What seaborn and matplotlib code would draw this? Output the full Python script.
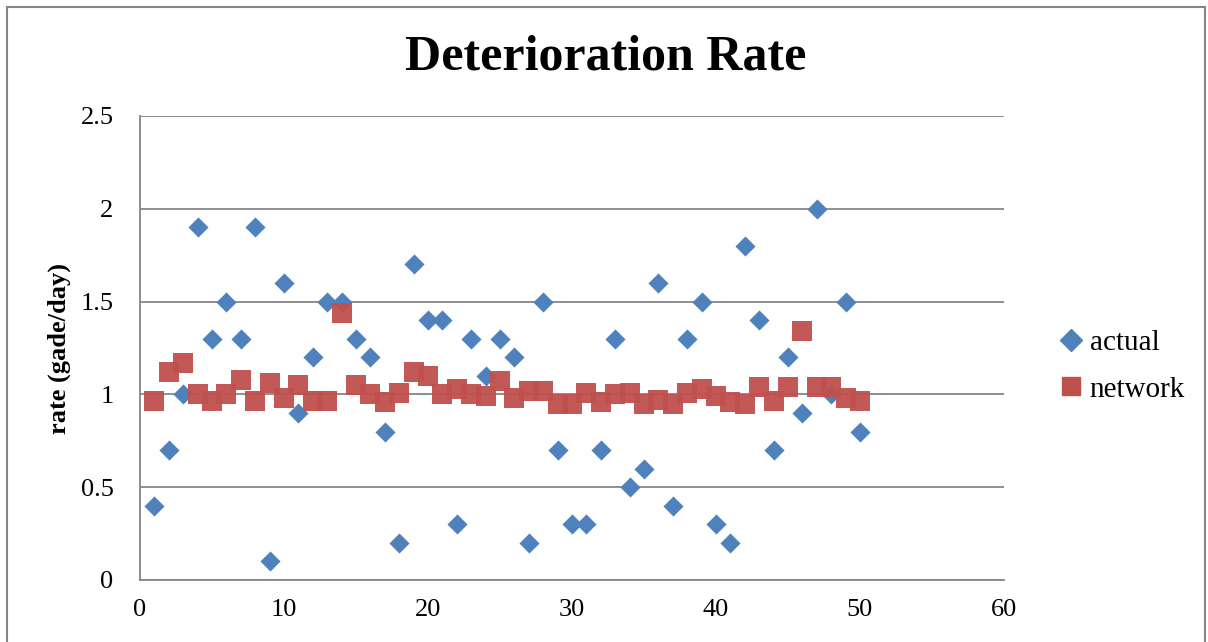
import numpy as np
import pandas as pd
import matplotlib
matplotlib.use("Agg")
import matplotlib.pyplot as plt
import seaborn as sns
from matplotlib.patches import Rectangle

# sample index and the two series
sample = list(range(1, 51))
actual = [0.4, 0.7, 1.0, 1.9, 1.3, 1.5, 1.3, 1.9, 0.1, 1.6,
          0.9, 1.2, 1.5, 1.5, 1.3, 1.2, 0.8, 0.2, 1.7, 1.4,
          1.4, 0.3, 1.3, 1.1, 1.3, 1.2, 0.2, 1.5, 0.7, 0.3,
          0.3, 0.7, 1.3, 0.5, 0.6, 1.6, 0.4, 1.3, 1.5, 0.3,
          0.2, 1.8, 1.4, 0.7, 1.2, 0.9, 2.0, 1.0, 1.5, 0.8]
network = [0.965, 1.12, 1.17, 1.0, 0.965, 1.0, 1.08, 0.965, 1.06, 0.98,
           1.05, 0.965, 0.965, 1.44, 1.05, 1.0, 0.96, 1.01, 1.12, 1.10,
           1.0, 1.03, 1.0, 0.99, 1.07, 0.98, 1.02, 1.02, 0.95, 0.95,
           1.01, 0.96, 1.0, 1.01, 0.95, 0.97, 0.95, 1.01, 1.03, 0.99,
           0.96, 0.95, 1.04, 0.965, 1.04, 1.34, 1.04, 1.04, 0.98, 0.965]
series_names = ["actual", "network"]

df = pd.concat([
    pd.DataFrame({"x": sample, "rate": actual, "series": "actual"}),
    pd.DataFrame({"x": sample, "rate": network, "series": "network"}),
])

sns.set_style("white")
plt.rcParams["font.family"] = ["Liberation Serif", "DejaVu Serif"]
plt.rcParams["text.color"] = "black"
plt.rcParams["axes.labelcolor"] = "black"
plt.rcParams["xtick.color"] = "black"
plt.rcParams["ytick.color"] = "black"

fig = plt.figure(figsize=(12.08, 6.42), dpi=100)
ax = fig.add_axes([140 / 1208, 1 - 580 / 642, (1004 - 140) / 1208, (580 - 116) / 642])

# outer chart border
fig.patches.append(Rectangle((7 / 1208, -0.05), (1205 - 7) / 1208, 1.05 - 7 / 642,
                             transform=fig.transFigure, fill=False,
                             edgecolor="#868686", linewidth=1.5))

palette = {"actual": "#4F81BD", "network": "#C0504D"}
markers = {"actual": "D", "network": "s"}

sns.scatterplot(data=df[df.series == "network"], x="x", y="rate", color=palette["network"],
                marker="s", s=200, linewidth=0, alpha=0.95, ax=ax, zorder=3)
sns.scatterplot(data=df[df.series == "actual"], x="x", y="rate", color=palette["actual"],
                marker="D", s=105, linewidth=0, ax=ax, zorder=2)

ax.set_xlim(0, 60)
ax.set_ylim(0, 2.5)
ax.set_xticks(range(0, 61, 10))
ax.set_yticks([0, 0.5, 1, 1.5, 2, 2.5])
ax.set_yticklabels(["0", "0.5", "1", "1.5", "2", "2.5"])
ax.tick_params(axis="both", labelsize=19, length=0)
ax.tick_params(axis="y", pad=19)
ax.tick_params(axis="x", pad=14)
ax.yaxis.grid(True, color="#868686", linewidth=1.3)
ax.set_axisbelow(True)
for side in ["top", "right"]:
    ax.spines[side].set_visible(False)
for side in ["left", "bottom"]:
    ax.spines[side].set_color("#868686")
    ax.spines[side].set_linewidth(1.3)

ax.set_xlabel("")
ax.set_ylabel("rate (gade/day)", fontsize=19, fontweight="bold", labelpad=7)
fig.text(606 / 1208, 1 - 58 / 642, "Deterioration Rate", ha="center", va="center",
         fontsize=36, fontweight="bold")

handles = [plt.Line2D([], [], linestyle="", marker=markers[n], color=palette[n],
                      markersize=11 if n == "actual" else 13) for n in series_names]
fig.legend(handles, series_names, loc="center left",
           bbox_to_anchor=(1027 / 1208, 1 - 366 / 642), frameon=False,
           fontsize=21, handletextpad=0.05, labelspacing=0.7, handlelength=1.2)

fig.savefig("out.png", dpi=100)
